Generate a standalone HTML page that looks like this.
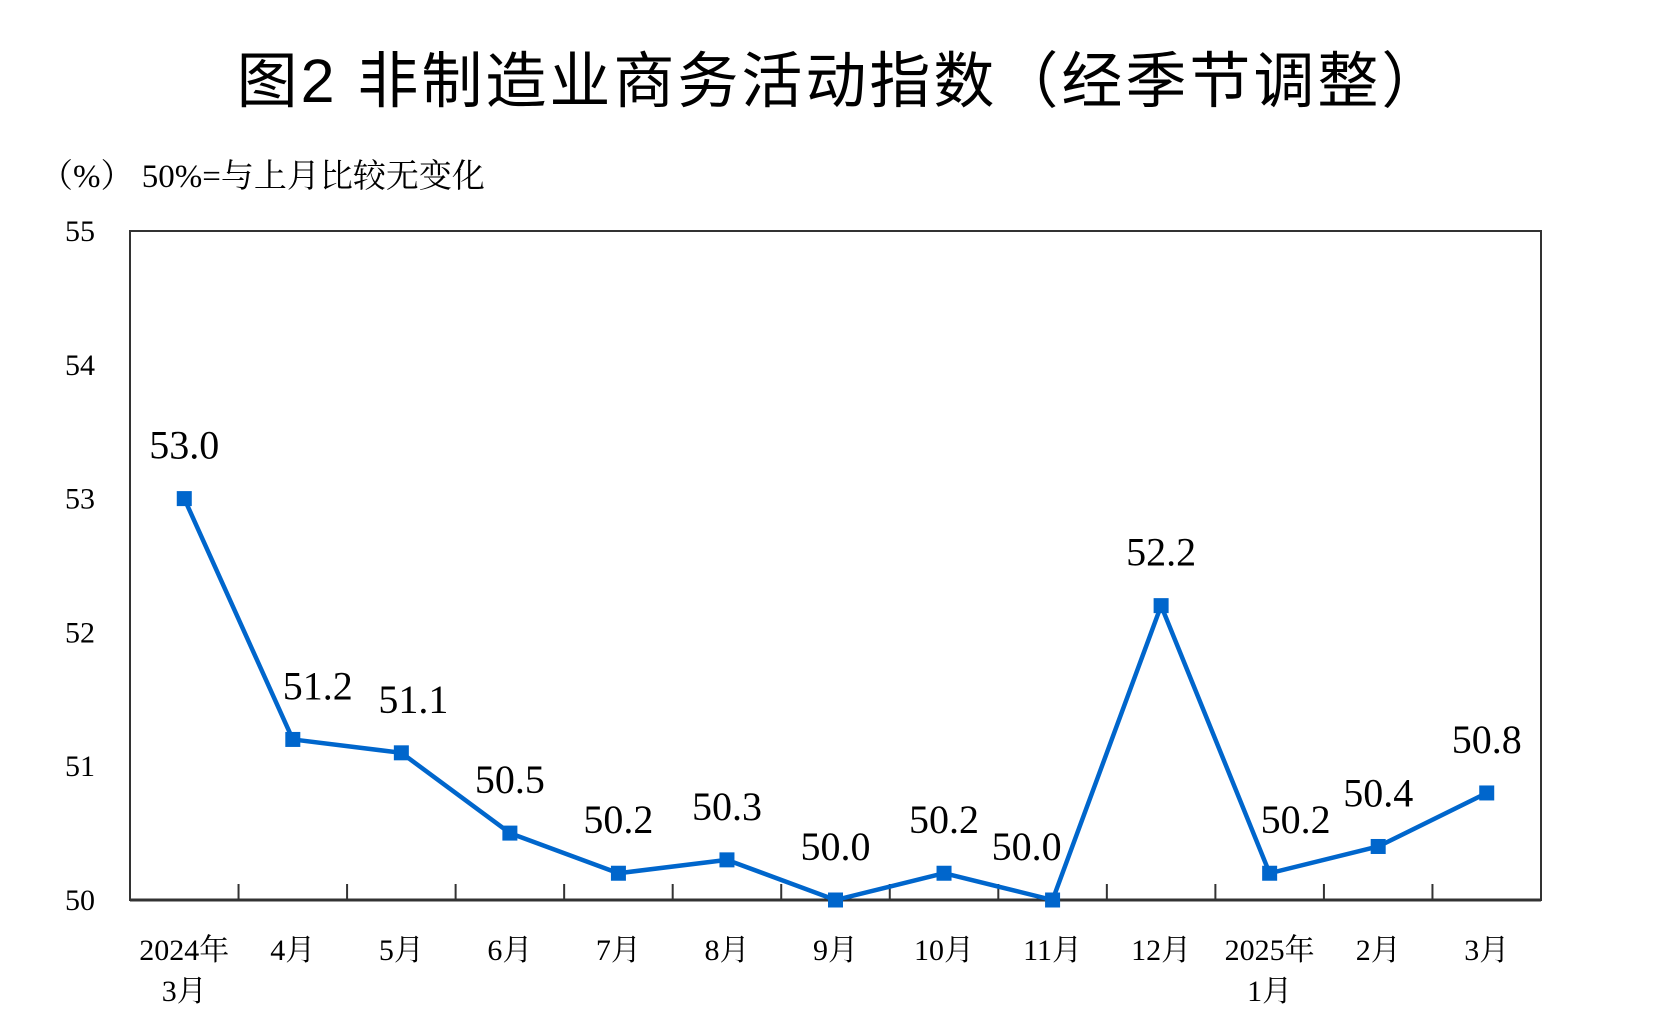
<!DOCTYPE html>
<html><head><meta charset="utf-8"><style>
html,body{margin:0;padding:0;background:#fff;}
svg{display:block;}
.serif{font-family:"Liberation Serif","Noto Serif CJK SC",serif;}
</style></head><body>
<svg id="chart" width="1660" height="1030" viewBox="0 0 1660 1030">
<text x="841" y="102" text-anchor="middle" font-family="'Liberation Sans','Noto Sans CJK SC',sans-serif" font-size="61" letter-spacing="3" fill="#000">图2  非制造业商务活动指数（经季节调整）</text>
<text x="40" y="187" class="serif" font-size="33" fill="#000">（%） 50%=与上月比较无变化</text>
<g id="plot"></g>
</svg>
<script>
const categories=[["2024年","3月"],["4月"],["5月"],["6月"],["7月"],["8月"],["9月"],["10月"],["11月"],["12月"],["2025年","1月"],["2月"],["3月"]];
const values=[53.0,51.2,51.1,50.5,50.2,50.3,50.0,50.2,50.0,52.2,50.2,50.4,50.8];
const valueLabels=["53.0","51.2","51.1","50.5","50.2","50.3","50.0","50.2","50.0","52.2","50.2","50.4","50.8"];
const yTicks=[50,51,52,53,54,55];
const labelDx=[0,25,12,0,0,0,0,0,-26,0,26,0,0];

const L=130,R=1541,T=231,B=900,ymin=50,ymax=55;
const band=(R-L)/categories.length;
const xs=i=>L+(i+0.5)*band;
const ys=v=>B-(v-ymin)/(ymax-ymin)*(B-T);
const NS="http://www.w3.org/2000/svg";
const g=document.getElementById('plot');
function mk(t,a){const e=document.createElementNS(NS,t);for(const k in a)e.setAttribute(k,a[k]);g.appendChild(e);return e;}

const frame=mk('rect',{x:L,y:T,width:R-L,height:B-T,fill:'none',stroke:'#333',"stroke-width":2});


const base=mk('line',{x1:L,x2:R,y1:B,y2:B,stroke:'#333',"stroke-width":3});


for(let i=1;i<categories.length;i++){
  const x=L+i*band;
  const tk=mk('line',{x1:x,x2:x,y1:B,y2:B-16,stroke:'#333',"stroke-width":2});
  
  
}
yTicks.forEach(v=>{
  const t=mk('text',{x:80,y:ys(v)+10,"text-anchor":"middle","font-size":30,class:"serif",fill:"#000"});
  t.textContent=v;
  
  
});
categories.forEach((c,i)=>{
  c.forEach((s,j)=>{
    const t=mk('text',{x:xs(i),y:960+j*41,"text-anchor":"middle","font-size":30,class:"serif",fill:"#000"});
    t.textContent=s;
    
    
  });
});
const line=mk('polyline',{points:values.map((v,i)=>xs(i)+','+ys(v)).join(' '),fill:'none',stroke:'#0066CC',"stroke-width":4.5,"stroke-linejoin":"round"});


values.forEach((v,i)=>{
  const m=mk('rect',{x:xs(i)-7.5,y:ys(v)-7.5,width:15,height:15,fill:'#0066CC'});
  
  
  const t=mk('text',{x:xs(i)+labelDx[i],y:ys(v)-40,"text-anchor":"middle","font-size":40,class:"serif",fill:"#000"});
  t.textContent=valueLabels[i];
  
  
});
</script>
</body></html>
